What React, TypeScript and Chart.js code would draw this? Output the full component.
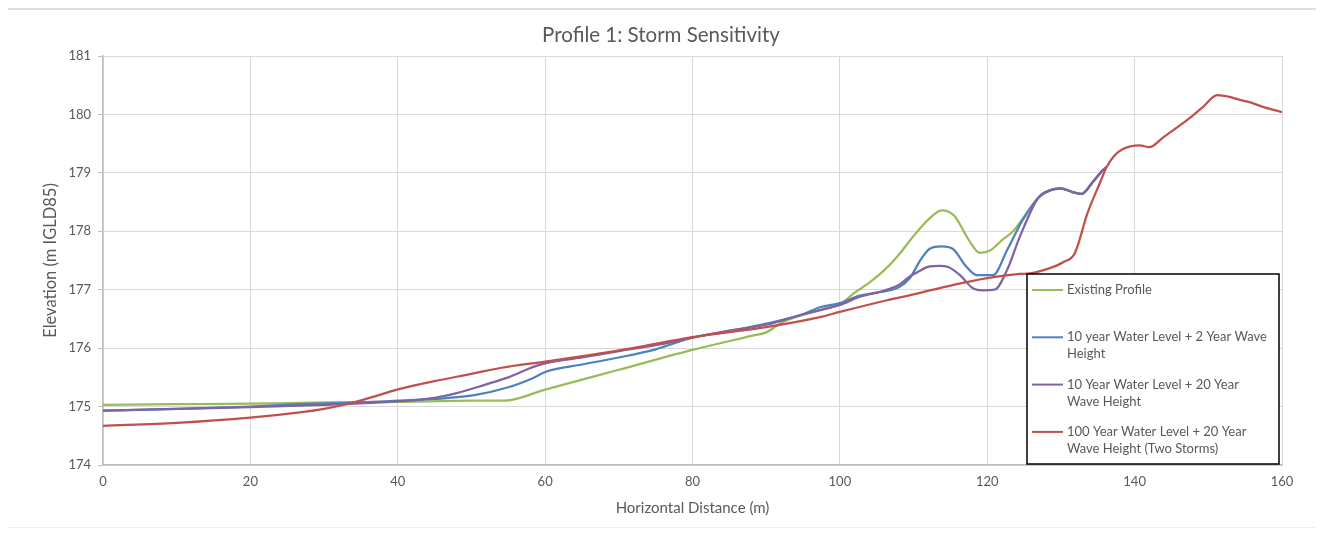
import React, { useEffect, useRef } from "react";
import { Chart, registerables } from "chart.js";

Chart.register(...registerables);

const chartTitle = "Profile 1: Storm Sensitivity";
const xAxisTitle = "Horizontal Distance (m)";
const yAxisTitle = "Elevation (m IGLD85)";

const seriesNames = [
  "Existing Profile",
  "10 year Water Level + 2 Year Wave Height",
  "10 Year Water Level + 20 Year Wave Height",
  "100 Year Water Level + 20 Year Wave Height (Two Storms)",
];
const legendLines = [
  ["Existing Profile"],
  ["10 year Water Level + 2 Year Wave", "Height"],
  ["10 Year Water Level + 20 Year", "Wave Height"],
  ["100 Year Water Level + 20 Year", "Wave Height (Two Storms)"],
];
const seriesColors = ["#9BBB59", "#4F81BD", "#8064A2", "#C0504D"];

const existingX = [0, 10, 20, 30, 40, 50, 54.5, 60, 70, 80, 88, 90, 92, 95, 98, 100, 102, 104, 106, 108, 110, 112, 113.8, 115.5, 117.5, 119, 120.5, 122, 123.5, 125, 126.9, 128.5, 130, 131.6, 132.8, 134.3, 135.7];
const existingY = [175.03, 175.04, 175.05, 175.07, 175.08, 175.1, 175.1, 175.29, 175.63, 175.97, 176.21, 176.27, 176.43, 176.57, 176.68, 176.75, 176.95, 177.12, 177.33, 177.6, 177.92, 178.2, 178.36, 178.27, 177.85, 177.63, 177.68, 177.85, 178.0, 178.25, 178.57, 178.7, 178.73, 178.67, 178.64, 178.84, 179.05];

const wave2X = [0, 10, 20, 26.7, 35, 40, 45, 50.2, 55, 58.4, 60.2, 65, 70, 75, 80, 85, 90, 95, 97.3, 100, 102.7, 105, 108, 109.5, 110.9, 112.2, 113.8, 115.3, 117.2, 118.6, 120.8, 122.7, 124.8, 126.9, 128.5, 129.9, 131.6, 132.8, 134.3, 135.7, 136.2];
const wave2Y = [174.93, 174.96, 175.0, 175.04, 175.07, 175.1, 175.13, 175.19, 175.33, 175.49, 175.6, 175.72, 175.84, 175.98, 176.18, 176.29, 176.42, 176.58, 176.7, 176.77, 176.9, 176.95, 177.04, 177.2, 177.5, 177.7, 177.74, 177.7, 177.39, 177.25, 177.25, 177.68, 178.19, 178.57, 178.7, 178.74, 178.67, 178.64, 178.84, 179.05, 179.1];

const wave20X = [0, 10, 20, 30, 40, 45, 48, 52, 55, 58.4, 60, 65, 70, 75, 80, 85, 90, 95, 100, 102.7, 105, 108, 109.4, 110.5, 112.2, 113.5, 114.7, 116.3, 118, 119.5, 121, 122.7, 124.4, 126.9, 128.5, 130, 131.6, 132.8, 134.3, 135.7, 136.2];
const wave20Y = [174.93, 174.96, 174.99, 175.03, 175.09, 175.15, 175.23, 175.38, 175.5, 175.68, 175.74, 175.84, 175.95, 176.05, 176.18, 176.3, 176.4, 176.58, 176.74, 176.88, 176.95, 177.08, 177.22, 177.3, 177.4, 177.41, 177.39, 177.25, 177.03, 176.99, 177.0, 177.34, 177.9, 178.57, 178.7, 178.73, 178.67, 178.64, 178.84, 179.05, 179.1];

const stormX = [0, 10, 20, 26.7, 30, 34, 37, 39.9, 44.8, 50, 53.9, 60, 66, 71.9, 80, 90, 97.3, 100, 106.4, 110, 115.3, 120, 124.4, 125.8, 128.5, 130.3, 131.9, 133.6, 135.3, 136.2, 137.3, 138.3, 140.7, 142, 143.8, 147.5, 149.3, 151.2, 152.9, 154.3, 155.6, 157.4, 160];
const stormY = [174.67, 174.72, 174.81, 174.9, 174.96, 175.07, 175.18, 175.29, 175.43, 175.56, 175.66, 175.77, 175.88, 176.0, 176.19, 176.36, 176.53, 176.62, 176.82, 176.92, 177.08, 177.2, 177.27, 177.28, 177.37, 177.47, 177.63, 178.31, 178.83, 179.1, 179.3, 179.4, 179.47, 179.44, 179.6, 179.94, 180.13, 180.33, 180.3, 180.25, 180.21, 180.13, 180.04];

const xTickValues = [0, 20, 40, 60, 80, 100, 120, 140, 160];
const yTickValues = [174, 175, 176, 177, 178, 179, 180, 181];

const FONT = "Lato, 'Open Sans', sans-serif";
const TEXT = "#595959";

function pts(xs: number[], ys: number[]) {
  return xs.map((x, i) => ({ x, y: ys[i] }));
}

const titlePlugin = {
  id: "centeredTitle",
  afterDraw(chart: any) {
    const { ctx } = chart;
    ctx.save();
    ctx.font = `20.5px ${FONT}`;
    ctx.fillStyle = TEXT;
    ctx.textAlign = "center";
    ctx.textBaseline = "middle";
    ctx.fillText(chartTitle, 653, 27);
    ctx.restore();
  },
};

const legendBoxPlugin = {
  id: "legendBox",
  afterDatasetsDraw(chart: any) {
    const { ctx, chartArea } = chart;
    const x1 = chartArea.right - 3;
    const y1 = chartArea.bottom - 1;
    const x0 = x1 - 252;
    const y0 = y1 - 190;
    ctx.save();
    ctx.fillStyle = "#ffffff";
    ctx.fillRect(x0, y0, x1 - x0, y1 - y0);
    ctx.strokeStyle = "#000000";
    ctx.lineWidth = 1.5;
    ctx.strokeRect(x0, y0, x1 - x0, y1 - y0);
    ctx.font = `13px ${FONT}`;
    ctx.textBaseline = "middle";
    ctx.textAlign = "left";
    legendLines.forEach((lines, i) => {
      const cy = y0 + 16 + 47.3 * i;
      ctx.strokeStyle = seriesColors[i];
      ctx.lineWidth = 2;
      ctx.beginPath();
      ctx.moveTo(x0 + 5, cy);
      ctx.lineTo(x0 + 36, cy);
      ctx.stroke();
      ctx.fillStyle = TEXT;
      lines.forEach((t, j) => {
        ctx.fillText(t, x0 + 40, cy + j * 17);
      });
    });
    ctx.restore();
  },
};

export default function App() {
  const ref = useRef<HTMLCanvasElement | null>(null);
  useEffect(() => {
    if (!ref.current) return;
    const xsList = [existingX, wave2X, wave20X, stormX];
    const ysList = [existingY, wave2Y, wave20Y, stormY];
    const orders = [3, 2, 1, 0];
    const chart = new Chart(ref.current, {
      type: "line",
      data: {
        datasets: seriesNames.map((name, i) => ({
          label: name,
          data: pts(xsList[i], ysList[i]),
          borderColor: seriesColors[i],
          backgroundColor: seriesColors[i],
          borderWidth: 2.25,
          pointRadius: 0,
          cubicInterpolationMode: "monotone" as const,
          order: orders[i],
          fill: false,
        })),
      },
      options: {
        animation: false,
        responsive: true,
        maintainAspectRatio: false,
        layout: { padding: { left: 0, right: 34, top: 48, bottom: 0 } },
        plugins: {
          legend: { display: false },
          tooltip: { enabled: false },
          title: { display: false },
        },
        scales: {
          x: {
            type: "linear",
            min: 0,
            max: 160,
            afterBuildTicks: (scale: any) => {
              scale.ticks = xTickValues.map((v) => ({ value: v }));
            },
            afterFit: (scale: any) => {
              scale.height = 64;
            },
            ticks: { color: TEXT, font: { family: FONT, size: 13 }, padding: 9, maxRotation: 0 },
            grid: { color: "#d9d9d9", lineWidth: 1, drawTicks: false },
            border: { color: "#bfbfbf", width: 1.5 },
            title: {
              display: true,
              text: xAxisTitle,
              color: TEXT,
              font: { family: FONT, size: 15, lineHeight: 1.2 },
              padding: { top: 0, bottom: 12 },
            },
          },
          y: {
            type: "linear",
            min: 174,
            max: 181,
            afterBuildTicks: (scale: any) => {
              scale.ticks = yTickValues.map((v) => ({ value: v }));
            },
            afterFit: (scale: any) => {
              scale.width = 95;
            },
            ticks: { color: TEXT, font: { family: FONT, size: 13 }, padding: 7 },
            grid: { color: "#d9d9d9", lineWidth: 1, drawTicks: true, tickLength: 5, tickColor: "#bfbfbf" },
            border: { color: "#bfbfbf", width: 1.5 },
            title: {
              display: true,
              text: yAxisTitle,
              color: TEXT,
              font: { family: FONT, size: 16.5, lineHeight: 1.2 },
              padding: { top: 33, bottom: 0 },
            },
          },
        },
      },
      plugins: [legendBoxPlugin, titlePlugin],
    });
    return () => chart.destroy();
  }, []);

  return (
    <div style={{ position: "relative", width: 1308, height: 521 }}>
      <div
        style={{
          position: "absolute",
          left: -1,
          top: 0,
          width: 1311,
          height: 520,
          borderTop: "2px solid #dedede",
          borderLeft: "1px solid #ececec",
          borderBottom: "1px solid #f0f0f0",
          boxSizing: "border-box",
          pointerEvents: "none",
        }}
      />
      <canvas ref={ref} />
    </div>
  );
}
